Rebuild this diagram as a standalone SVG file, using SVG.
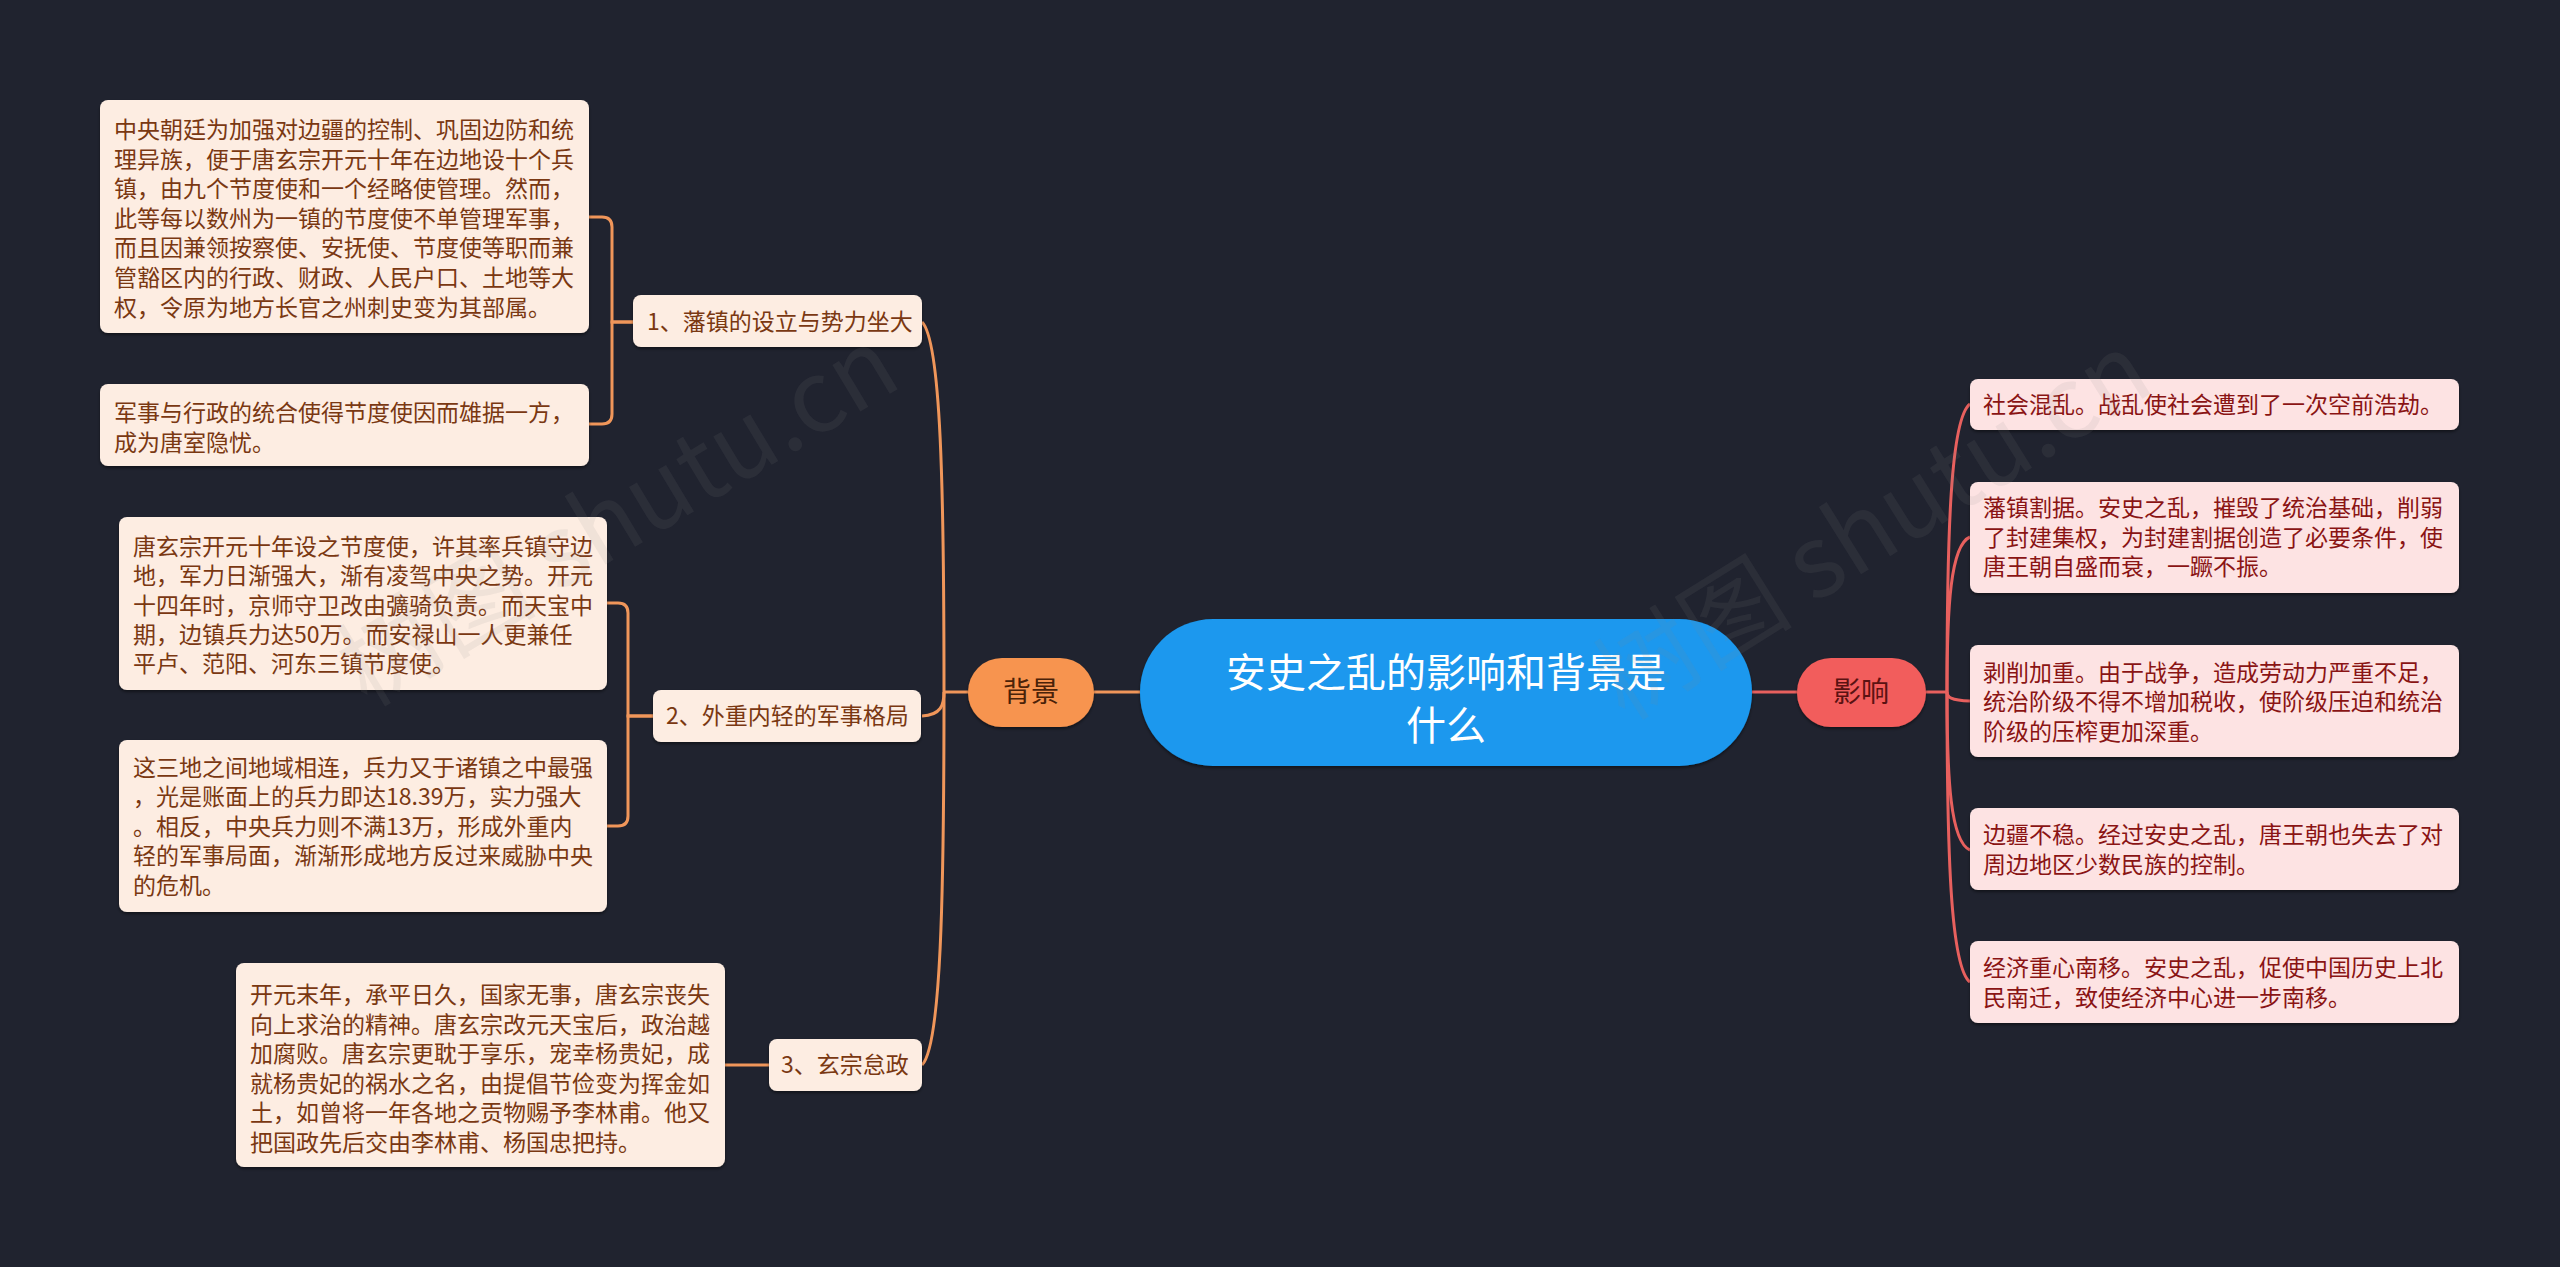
<svg xmlns="http://www.w3.org/2000/svg" width="2560" height="1267" viewBox="0 0 2560 1267">
<defs>
<filter id="sh" x="-5%" y="-10%" width="110%" height="130%">
<feDropShadow dx="0" dy="2" stdDeviation="1.5" flood-color="#000" flood-opacity="0.45"/>
</filter>
</defs>
<style>
text{font-family:"Noto Sans CJK SC","Noto Sans",sans-serif}
.lbox{fill:#FDEDE2;filter:url(#sh)}
.rbox{fill:#FDE3E3;filter:url(#sh)}
.lt{font-size:23px;fill:#7A3812}
.rt{font-size:23px;fill:#8A1414}
.lc{fill:none;stroke:#F0965A;stroke-width:3}
.rc{fill:none;stroke:#E8605E;stroke-width:3}
.wm{font-size:100px;fill:#8a8a8a;fill-opacity:0.11}
</style>
<rect width="2560" height="1267" fill="#20232F"/>

<g id="connectors">
<path class="lc" d="M1140,692 H1094"/>
<path class="lc" d="M968,692 H944"/>
<path class="lc" d="M944,692 C944,488 941,341 922,322"/>
<path class="lc" d="M944,692 C944,705 941,715 922,716"/>
<path class="lc" d="M944,692 C944,897 941,1046 922,1065"/>
<path class="lc" d="M633,322 H612 V227 Q612,217 602,217 H589"/>
<path class="lc" d="M633,322 H612 V414 Q612,424 602,424 H589"/>
<path class="lc" d="M653,716 H628 V613 Q628,603 618,603 H607"/>
<path class="lc" d="M653,716 H628 V816 Q628,826 618,826 H607"/>
<path class="lc" d="M769,1065 H725"/>
<path class="rc" d="M1752,692 H1797"/>
<path class="rc" d="M1926,692 H1947"/>
<path class="rc" d="M1947,692 C1947,534 1950.5,418 1970,404"/>
<path class="rc" d="M1947,692 C1947,607 1950.5,545 1970,537"/>
<path class="rc" d="M1947,692 C1947,697 1950.5,700.5 1970,701"/>
<path class="rc" d="M1947,692 C1947,779 1950.5,842 1970,850"/>
<path class="rc" d="M1947,692 C1947,852 1950.5,967.5 1970,982"/>
</g>

<g id="center">
<rect x="1140" y="619" width="612" height="147" rx="73" fill="#1A98EE" filter="url(#sh)"/>
<text x="1446" y="687" font-size="40" fill="#FFFFFF" text-anchor="middle">安史之乱的影响和背景是</text>
<text x="1446" y="740" font-size="40" fill="#FFFFFF" text-anchor="middle">什么</text>
</g>

<g id="beijing">
<rect x="968" y="658" width="126" height="69" rx="34" fill="#F7944F" filter="url(#sh)"/>
<text x="1031" y="702" font-size="28" fill="#4A2208" text-anchor="middle">背景</text>
</g>

<g id="yingxiang">
<rect x="1797" y="658" width="129" height="69" rx="34" fill="#F25D5B" filter="url(#sh)"/>
<text x="1861" y="702" font-size="28" fill="#5A1212" text-anchor="middle">影响</text>
</g>

<g id="n1">
<rect class="lbox" x="633" y="295" width="289" height="52" rx="8"/>
<text class="lt" x="647" y="330">1、藩镇的设立与势力坐大</text>
</g>
<g id="n2">
<rect class="lbox" x="653" y="690" width="268" height="52" rx="8"/>
<text class="lt" x="666" y="724">2、外重内轻的军事格局</text>
</g>
<g id="n3">
<rect class="lbox" x="769" y="1039" width="153" height="52" rx="8"/>
<text class="lt" x="781" y="1073">3、玄宗怠政</text>
</g>

<g id="a1">
<rect class="lbox" x="100" y="100" width="489" height="233" rx="8"/>
<text class="lt" x="114" y="138">中央朝廷为加强对边疆的控制、巩固边防和统</text>
<text class="lt" x="114" y="168">理异族，便于唐玄宗开元十年在边地设十个兵</text>
<text class="lt" x="114" y="197">镇，由九个节度使和一个经略使管理。然而，</text>
<text class="lt" x="114" y="227">此等每以数州为一镇的节度使不单管理军事，</text>
<text class="lt" x="114" y="256">而且因兼领按察使、安抚使、节度使等职而兼</text>
<text class="lt" x="114" y="286">管豁区内的行政、财政、人民户口、土地等大</text>
<text class="lt" x="114" y="316">权，令原为地方长官之州刺史变为其部属。</text>
</g>
<g id="a2">
<rect class="lbox" x="100" y="384" width="489" height="82" rx="8"/>
<text class="lt" x="114" y="421">军事与行政的统合使得节度使因而雄据一方，</text>
<text class="lt" x="114" y="451">成为唐室隐忧。</text>
</g>
<g id="b1">
<rect class="lbox" x="119" y="517" width="488" height="173" rx="8"/>
<text class="lt" x="133" y="555">唐玄宗开元十年设之节度使，许其率兵镇守边</text>
<text class="lt" x="133" y="584">地，军力日渐强大，渐有凌驾中央之势。开元</text>
<text class="lt" x="133" y="614">十四年时，京师守卫改由彍骑负责。而天宝中</text>
<text class="lt" x="133" y="643">期，边镇兵力达50万。而安禄山一人更兼任</text>
<text class="lt" x="133" y="672">平卢、范阳、河东三镇节度使。</text>
</g>
<g id="b2">
<rect class="lbox" x="119" y="740" width="488" height="172" rx="8"/>
<text class="lt" x="133" y="776">这三地之间地域相连，兵力又于诸镇之中最强</text>
<text class="lt" x="133" y="805">，光是账面上的兵力即达18.39万，实力强大</text>
<text class="lt" x="133" y="835">。相反，中央兵力则不满13万，形成外重内</text>
<text class="lt" x="133" y="864">轻的军事局面，渐渐形成地方反过来威胁中央</text>
<text class="lt" x="133" y="894">的危机。</text>
</g>
<g id="c1">
<rect class="lbox" x="236" y="963" width="489" height="204" rx="8"/>
<text class="lt" x="250" y="1003">开元末年，承平日久，国家无事，唐玄宗丧失</text>
<text class="lt" x="250" y="1033">向上求治的精神。唐玄宗改元天宝后，政治越</text>
<text class="lt" x="250" y="1062">加腐败。唐玄宗更耽于享乐，宠幸杨贵妃，成</text>
<text class="lt" x="250" y="1092">就杨贵妃的祸水之名，由提倡节俭变为挥金如</text>
<text class="lt" x="250" y="1121">土，如曾将一年各地之贡物赐予李林甫。他又</text>
<text class="lt" x="250" y="1151">把国政先后交由李林甫、杨国忠把持。</text>
</g>

<g id="r1">
<rect class="rbox" x="1970" y="379" width="489" height="51" rx="8"/>
<text class="rt" x="1983" y="413">社会混乱。战乱使社会遭到了一次空前浩劫。</text>
</g>
<g id="r2">
<rect class="rbox" x="1970" y="482" width="489" height="111" rx="8"/>
<text class="rt" x="1983" y="516">藩镇割据。安史之乱，摧毁了统治基础，削弱</text>
<text class="rt" x="1983" y="546">了封建集权，为封建割据创造了必要条件，使</text>
<text class="rt" x="1983" y="575">唐王朝自盛而衰，一蹶不振。</text>
</g>
<g id="r3">
<rect class="rbox" x="1970" y="645" width="489" height="112" rx="8"/>
<text class="rt" x="1983" y="681">剥削加重。由于战争，造成劳动力严重不足，</text>
<text class="rt" x="1983" y="710">统治阶级不得不增加税收，使阶级压迫和统治</text>
<text class="rt" x="1983" y="740">阶级的压榨更加深重。</text>
</g>
<g id="r4">
<rect class="rbox" x="1970" y="808" width="489" height="82" rx="8"/>
<text class="rt" x="1983" y="843">边疆不稳。经过安史之乱，唐王朝也失去了对</text>
<text class="rt" x="1983" y="873">周边地区少数民族的控制。</text>
</g>
<g id="r5">
<rect class="rbox" x="1970" y="941" width="489" height="82" rx="8"/>
<text class="rt" x="1983" y="976">经济重心南移。安史之乱，促使中国历史上北</text>
<text class="rt" x="1983" y="1006">民南迁，致使经济中心进一步南移。</text>
</g>

<g id="watermark">
<text class="wm" transform="translate(367,708) rotate(-31)">树图 shutu.cn</text>
<text class="wm" transform="translate(1625,722) rotate(-32)">树图 shutu.cn</text>
</g>
</svg>
